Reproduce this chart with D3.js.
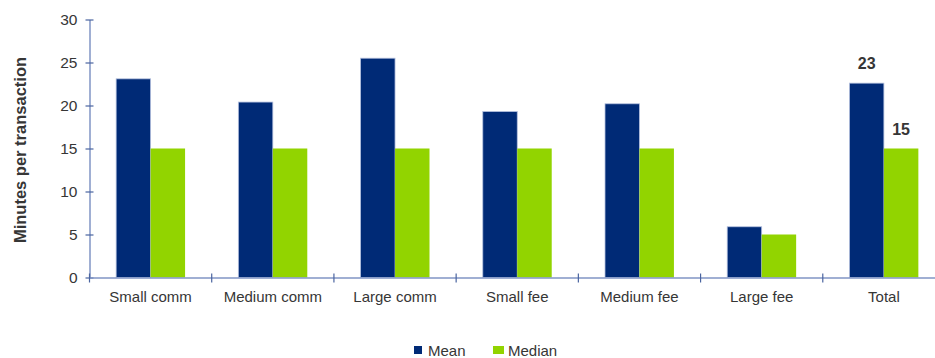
<!DOCTYPE html>
<html>
<head>
<meta charset="utf-8">
<script src="https://cdn.jsdelivr.net/npm/d3@7"></script>
<style>
  html, body { margin: 0; padding: 0; background: #fff; }
  svg { display: block; font-family: "Liberation Sans", Arial, sans-serif; }
</style>
</head>
<body>
<svg id="chart" width="935" height="358"></svg>
<script>
// Transaction time by segment
const categories = ["Small comm", "Medium comm", "Large comm", "Small fee", "Medium fee", "Large fee", "Total"];
const seriesNames = ["Mean", "Median"];
const meanValues = [23.1, 20.4, 25.5, 19.3, 20.2, 5.9, 22.6];
const medianValues = [15, 15, 15, 15, 15, 5, 15];
const yTicks = [0, 5, 10, 15, 20, 25, 30];
const labelledCategory = "Total";

const colors = { Mean: "#002A76", Median: "#92D400" };
const textColor = "#363636";
const axisColor = "#8094c4";
const tickColor = "#4a64a0";

const svg = d3.select("#chart");

const plotLeft = 89.5, plotRight = 945, plotTop = 19.5, plotBottom = 277.5;
const groupPad = 0.436;

const x0 = d3.scaleBand()
  .domain(categories)
  .range([plotLeft, plotRight])
  .paddingInner(groupPad)
  .paddingOuter(groupPad / 2);

const x1 = d3.scaleBand()
  .domain(seriesNames)
  .range([0, x0.bandwidth()]);

const y = d3.scaleLinear().domain([0, 30]).range([plotBottom, plotTop]);

const rows = categories.map((c, i) => ({ category: c, Mean: meanValues[i], Median: medianValues[i] }));

// Bars
const groups = svg.append("g").selectAll("g")
  .data(rows)
  .join("g")
  .attr("transform", d => `translate(${x0(d.category)},0)`);

groups.selectAll("rect")
  .data(d => seriesNames.map(k => ({ key: k, value: d[k], category: d.category })))
  .join("rect")
  .attr("x", d => x1(d.key))
  .attr("width", x1.bandwidth())
  .attr("y", d => y(d.value))
  .attr("height", d => y(0) - y(d.value))
  .attr("fill", d => colors[d.key])
  .attr("stroke", d => d.key === "Mean" ? "#b4c0de" : "none")
  .attr("stroke-width", 0.8);

// Value labels on the Total group
const fmt = d3.format(".0f");
const totalRow = rows.find(r => r.category === labelledCategory);
seriesNames.forEach(k => {
  svg.append("text")
    .attr("x", x0(labelledCategory) + x1(k) + x1.bandwidth() / 2)
    .attr("y", y(totalRow[k]) - 14)
    .attr("text-anchor", "middle")
    .attr("font-size", 16)
    .attr("font-weight", "bold")
    .attr("fill", textColor)
    .text(fmt(totalRow[k]));
});

// Y axis
const yAxis = svg.append("g")
  .attr("transform", `translate(${plotLeft},0)`)
  .call(d3.axisLeft(y).tickValues(yTicks).tickSize(0).tickPadding(12));
yAxis.select(".domain").attr("stroke", axisColor).attr("stroke-width", 1.5);
yAxis.selectAll(".tick line").remove();
yAxis.selectAll(".tick").append("line")
  .attr("x1", -4).attr("x2", 4)
  .attr("stroke", tickColor).attr("stroke-width", 1.2);
yAxis.selectAll(".tick text")
  .attr("font-size", 15.5)
  .attr("fill", textColor)
  .attr("font-family", "Liberation Sans, Arial, sans-serif");

// X axis
const xAxis = svg.append("g")
  .attr("transform", `translate(0,${plotBottom})`)
  .call(d3.axisBottom(x0).tickSize(0).tickPadding(14));
xAxis.select(".domain").attr("stroke", axisColor).attr("stroke-width", 1.5);
xAxis.selectAll(".tick text")
  .attr("font-size", 15)
  .attr("fill", textColor)
  .attr("font-family", "Liberation Sans, Arial, sans-serif");

// Category separators
const step = x0.step();
const boundaries = categories.map(c => x0(c) - step * groupPad / 2);
svg.append("g").selectAll("line")
  .data(boundaries)
  .join("line")
  .attr("x1", d => d).attr("x2", d => d)
  .attr("y1", plotBottom - 4).attr("y2", plotBottom + 5)
  .attr("stroke", tickColor).attr("stroke-width", 1.2);

// Y axis title
svg.append("text")
  .attr("transform", `translate(26,150) rotate(-90)`)
  .attr("text-anchor", "middle")
  .attr("font-size", 16.5)
  .attr("font-weight", "bold")
  .attr("fill", textColor)
  .text("Minutes per transaction");

// Legend
const legendItems = [
  { key: "Mean", sx: 414, sw: 8, tx: 428 },
  { key: "Median", sx: 493, sw: 11, tx: 508 }
];
const legend = svg.append("g");
legendItems.forEach(it => {
  legend.append("rect")
    .attr("x", it.sx).attr("y", 346)
    .attr("width", it.sw).attr("height", 8)
    .attr("fill", colors[it.key]);
  legend.append("text")
    .attr("x", it.tx).attr("y", 356)
    .attr("font-size", 15)
    .attr("fill", textColor)
    .text(it.key);
});
</script>
</body>
</html>
